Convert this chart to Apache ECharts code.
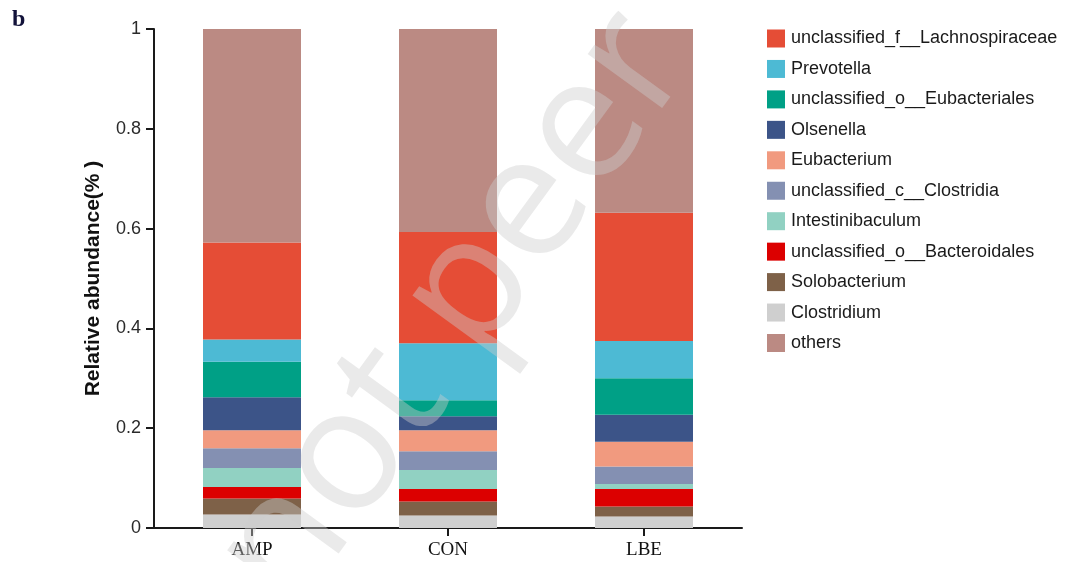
<!DOCTYPE html>
<html>
<head>
<meta charset="utf-8">
<script src="https://cdn.jsdelivr.net/npm/echarts@6/dist/echarts.min.js"></script>
<style>
  html, body { margin: 0; padding: 0; background: #fff; }
  #chart { width: 1070px; height: 562px; }
</style>
</head>
<body>
<div id="chart"></div>
<script>
// Sample groups on the x axis
const groups = ['AMP', 'CON', 'LBE'];

// Taxa, listed top of legend first
const taxa = [
  'unclassified_f__Lachnospiraceae',
  'Prevotella',
  'unclassified_o__Eubacteriales',
  'Olsenella',
  'Eubacterium',
  'unclassified_c__Clostridia',
  'Intestinibaculum',
  'unclassified_o__Bacteroidales',
  'Solobacterium',
  'Clostridium',
  'others'
];

// Relative abundance per taxon for AMP, CON, LBE
const lachnospiraceae = [0.194, 0.223, 0.257];
const prevotella      = [0.045, 0.114, 0.075];
const eubacteriales   = [0.071, 0.032, 0.073];
const olsenella       = [0.066, 0.028, 0.054];
const eubacterium     = [0.036, 0.042, 0.050];
const clostridiaC     = [0.040, 0.038, 0.035];
const intestinibac    = [0.038, 0.038, 0.010];
const bacteroidales   = [0.023, 0.025, 0.035];
const solobacterium   = [0.032, 0.028, 0.020];
const clostridium     = [0.027, 0.025, 0.023];
const others          = [0.428, 0.407, 0.368];

const yTicks = [0, 0.2, 0.4, 0.6, 0.8, 1];

const valuesByTaxon = {
  'unclassified_f__Lachnospiraceae': lachnospiraceae,
  'Prevotella': prevotella,
  'unclassified_o__Eubacteriales': eubacteriales,
  'Olsenella': olsenella,
  'Eubacterium': eubacterium,
  'unclassified_c__Clostridia': clostridiaC,
  'Intestinibaculum': intestinibac,
  'unclassified_o__Bacteroidales': bacteroidales,
  'Solobacterium': solobacterium,
  'Clostridium': clostridium,
  'others': others
};

const colors = {
  'unclassified_f__Lachnospiraceae': '#E54D36',
  'Prevotella': '#4DBAD4',
  'unclassified_o__Eubacteriales': '#00A086',
  'Olsenella': '#3C5488',
  'Eubacterium': '#F19A7F',
  'unclassified_c__Clostridia': '#8490B2',
  'Intestinibaculum': '#91D1C2',
  'unclassified_o__Bacteroidales': '#DC0000',
  'Solobacterium': '#7E6148',
  'Clostridium': '#CFCFCF',
  'others': '#BB8A83'
};

// Stack from the bottom: Clostridium first ... Lachnospiraceae, then others on top
const stackOrder = taxa.slice(0, taxa.length - 1).reverse().concat(['others']);
const series = stackOrder.map(name => ({
  name: name,
  type: 'bar',
  stack: 'abundance',
  barWidth: 98,
  data: valuesByTaxon[name],
  itemStyle: { color: colors[name] },
  emphasis: { disabled: true }
}));

const chart = echarts.init(document.getElementById('chart'), null, { renderer: 'canvas' });
chart.setOption({
  animation: false,
  grid: { left: 154, right: 328, top: 29, bottom: 34, containLabel: false },
  legend: {
    data: taxa.map(n => ({ name: n, icon: 'rect', itemStyle: { color: colors[n] } })),
    orient: 'vertical',
    left: 767,
    top: 29.5,
    padding: 0,
    itemWidth: 18,
    itemHeight: 18,
    itemGap: 12.45,
    selectedMode: false,
    textStyle: { fontFamily: 'Liberation Sans, Arial, sans-serif', fontSize: 18, color: '#1a1a1a', padding: [0, 0, 0, 1] }
  },
  xAxis: {
    type: 'category',
    data: groups,
    axisLine: { show: true, lineStyle: { color: '#1a1a1a', width: 2 } },
    axisTick: { show: true, alignWithLabel: true, length: 8, lineStyle: { color: '#1a1a1a', width: 2 } },
    axisLabel: { fontFamily: 'Liberation Serif, Times New Roman, serif', fontSize: 19, color: '#111', margin: 13 }
  },
  yAxis: {
    type: 'value',
    min: yTicks[0],
    max: yTicks[yTicks.length - 1],
    interval: 0.2,
    name: 'Relative abundance(% )',
    nameLocation: 'middle',
    nameGap: 50,
    nameTextStyle: { fontFamily: 'Liberation Sans, Arial, sans-serif', fontSize: 21, fontWeight: 'bold', color: '#111' },
    axisLine: { show: true, lineStyle: { color: '#1a1a1a', width: 2 } },
    axisTick: { show: true, length: 8, lineStyle: { color: '#1a1a1a', width: 2 } },
    axisLabel: {
      fontFamily: 'Liberation Sans, Arial, sans-serif', fontSize: 18, color: '#2a2a2a', margin: 13,
      formatter: v => String(v)
    },
    splitLine: { show: false }
  },
  graphic: [
    {
      type: 'text',
      left: 12,
      top: 8,
      style: { text: 'b', font: 'bold 24px "Liberation Serif", "Times New Roman", serif', fill: '#12123a' }
    },
    {
      type: 'text',
      x: 323,
      y: 638,
      rotation: 54 * Math.PI / 180,
      z: 100,
      silent: true,
      style: {
        text: 'not peer',
        font: '172px "Open Sans", "DejaVu Sans", sans-serif',
        fill: 'rgba(205,205,205,0.42)',
        textAlign: 'left',
        textVerticalAlign: 'bottom'
      }
    }
  ],
  series: series
});
</script>
</body>
</html>
